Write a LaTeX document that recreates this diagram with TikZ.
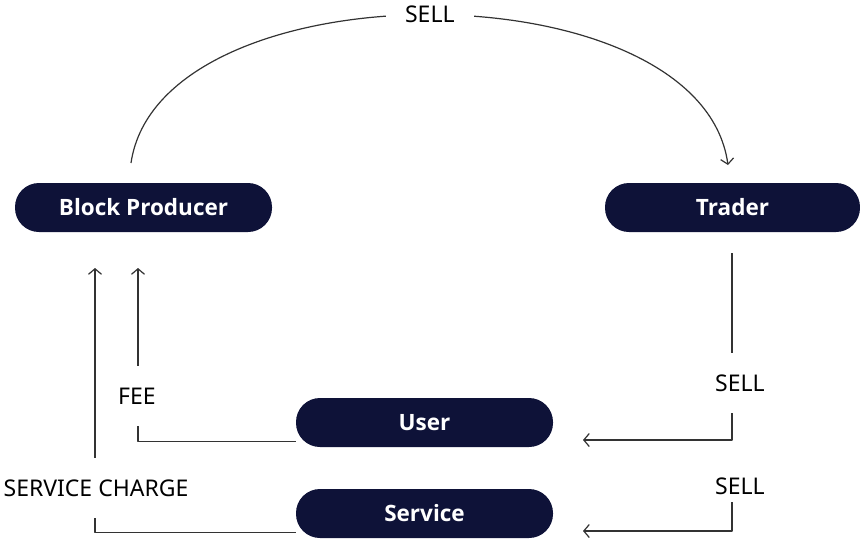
\documentclass[tikz,border=0pt]{standalone}
\usepackage{fontspec}
\setmainfont{Noto Sans}
\newfontfamily\actorfont{Open Sans}
\usetikzlibrary{arrows.meta}
\definecolor{navy}{HTML}{0E1238}
\definecolor{wire}{HTML}{333333}
\begin{document}
\begin{tikzpicture}[x=1pt, y=-1pt, line join=round,
  actor/.style={rectangle, rounded corners=24pt, fill=navy, text=white,
    minimum width=257pt, minimum height=49pt, font=\actorfont\bfseries\fontsize{22.5}{26}\selectfont},
  flow/.style={draw=wire, line width=1.2pt, -{Straight Barb[length=5.5pt,width=13pt]}},
  tag/.style={fill=white, inner xsep=8pt, inner ysep=22pt, font=\fontsize{23}{27}\selectfont}]
\useasboundingbox (0,0) rectangle (860,539);
\node[actor] (bp)      at (143.5,207.5) {Block Producer};
\node[actor, minimum width=255pt] (trader) at (732.5,207.5) {Trader};
\node[actor] (user)    at (424.5,422.5) {User};
\node[actor] (service) at (424.5,513.5) {Service};
\coordinate (arcStart)  at (131,163);
\coordinate (arcEnd)    at (728,165);
\coordinate (feeTop)    at (138,268);
\coordinate (chargeTop) at (95,268);
\coordinate (sellTop)   at (732,253);
\coordinate (sellLow)   at (732,502);
\coordinate (userIn)    at (583,440);
\coordinate (serviceIn) at (583,531);
\draw[flow] (arcStart) .. controls (160,-35) and (700,-35) .. node[tag, inner xsep=19pt, inner ysep=4pt] (sellArc) {SELL} (arcEnd);
\draw[flow] ([yshift=6pt]user.south west) -| (feeTop);
\draw[flow] ([yshift=6pt]service.south west) -| (chargeTop);
\draw[flow] (sellTop) |- (userIn);
\draw[flow] (sellLow) |- (serviceIn);
\node[tag] (fee)    at (137,396) {FEE};
\node[tag] (charge) at (96,488) {SERVICE CHARGE};
\node[tag] (sellUp) at (740,383) {SELL};
\node[font=\fontsize{23}{27}\selectfont] (sellDown) at (740,486) {SELL};
\end{tikzpicture}
\end{document}
